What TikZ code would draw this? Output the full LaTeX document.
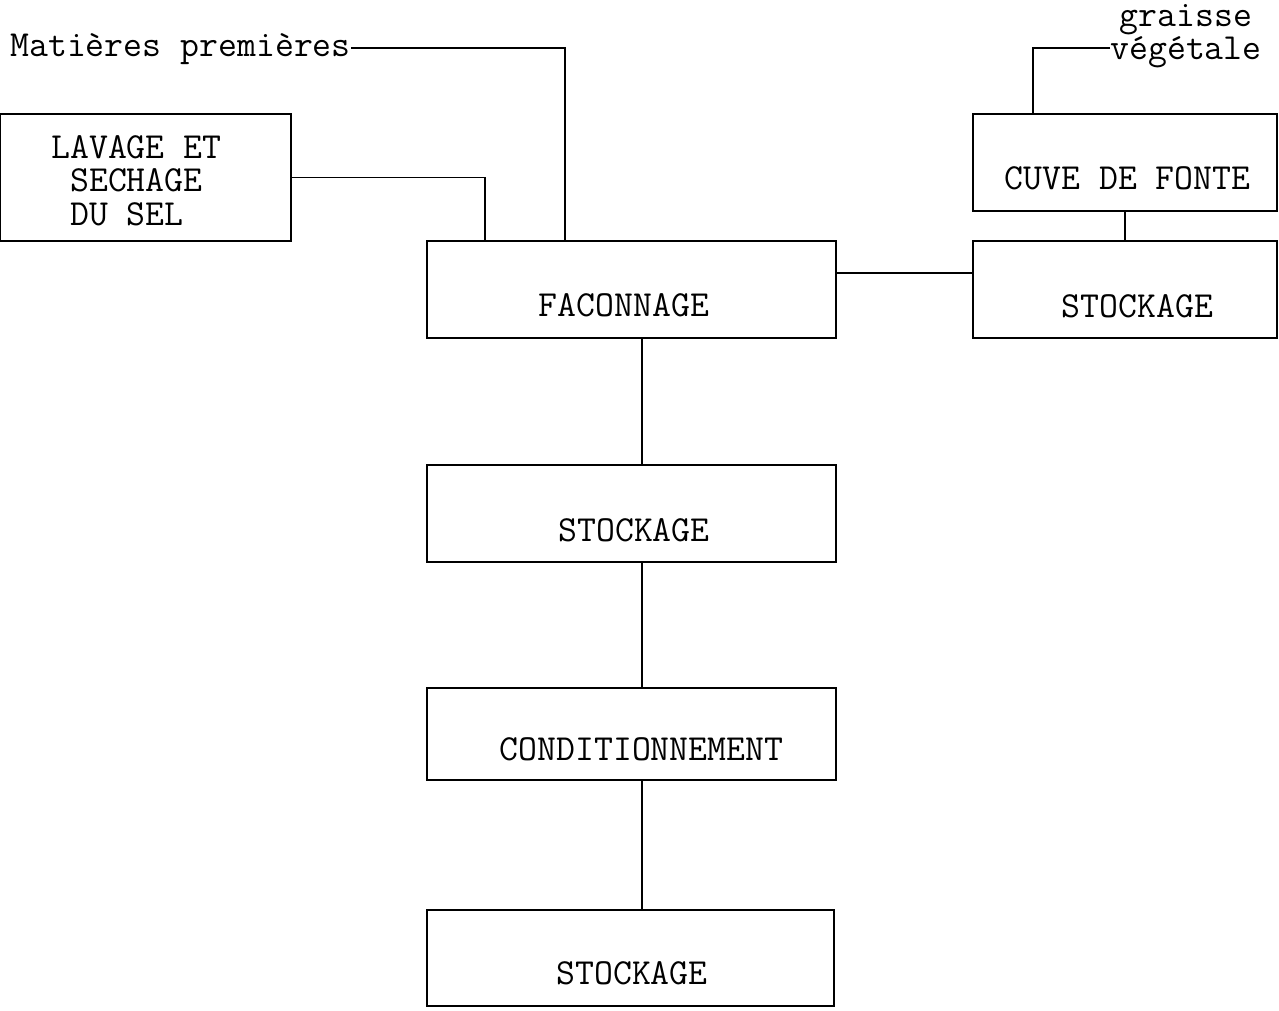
\documentclass[tikz,border=0pt]{standalone}
\usepackage{fontspec}
\tikzset{
  boite/.style={draw,line width=1pt,inner sep=0pt,minimum width=8.18cm,minimum height=1.94cm},
  etiq/.style={font=\ttfamily\fontsize{20.9}{19}\selectfont,inner sep=0pt},
  trait/.style={line width=.8pt}
}

\begin{document}
\begin{tikzpicture}[x=.02cm,y=-.02cm]
    \useasboundingbox (0,0) rectangle (1279,1011);
    % boites
    \node[boite,minimum width=5.82cm,minimum height=2.54cm] (lav) at (145.5,177.5) {};
    \node[boite] (fac) at (631.5,289.5) {};
    \node[boite] (sto1) at (631.5,513.5) {};
    \node[boite,minimum height=1.84cm] (cond) at (631.5,734) {};
    \node[boite,minimum width=8.14cm,minimum height=1.92cm] (sto3) at (630.5,958) {};
    \node[boite,minimum width=6.08cm] (cuve) at (1125,162.5) {};
    \node[boite,minimum width=6.08cm] (sto2) at (1125,289.5) {};
    % textes
    \node[etiq,anchor=base west] (mp) at (10,56) {Matières premières};
    \node[etiq,align=center] (gv) at (1186,36) {graisse\\végétale};
    \node[etiq,align=left,anchor=north west] (lavt) at (51,135) {LAVAGE ET\\\hphantom{L}SECHAGE\\\hphantom{L}DU SEL};
    \node[etiq] (fact) at (624,305) {FACONNAGE};
    \node[etiq] (sto1t) at (634,530) {STOCKAGE};
    \node[etiq] (condt) at (641.5,749) {CONDITIONNEMENT};
    \node[etiq] (sto3t) at (632,973) {STOCKAGE};
    \node[etiq] (cuvet) at (1127.5,178) {CUVE DE FONTE};
    \node[etiq] (sto2t) at (1137.5,306) {STOCKAGE};
    % liaisons
    \coordinate (mpcoude) at (565,48);
    \coordinate (lavin) at (485,241);
    \coordinate (gvcoude) at (1033,48);
    \coordinate (axe) at (642,0);
    \coordinate (niveau) at (900,273);
    \draw[trait] (mp.east |- mpcoude) -- (mpcoude) -- (mpcoude |- fac.north);
    \draw[trait] (lav.east) -| (lavin);
    \draw[trait] (gv.west |- gvcoude) -- (gvcoude) -- (gvcoude |- cuve.north);
    \draw[trait] (cuve) -- (sto2);
    \draw[trait] (fac.east |- niveau) -- (sto2.west |- niveau);
    \draw[trait] (fac.south -| axe) -- (sto1.north -| axe);
    \draw[trait] (sto1.south -| axe) -- (cond.north -| axe);
    \draw[trait] (cond.south -| axe) -- (sto3.north -| axe);
  \end{tikzpicture}
\end{document}
